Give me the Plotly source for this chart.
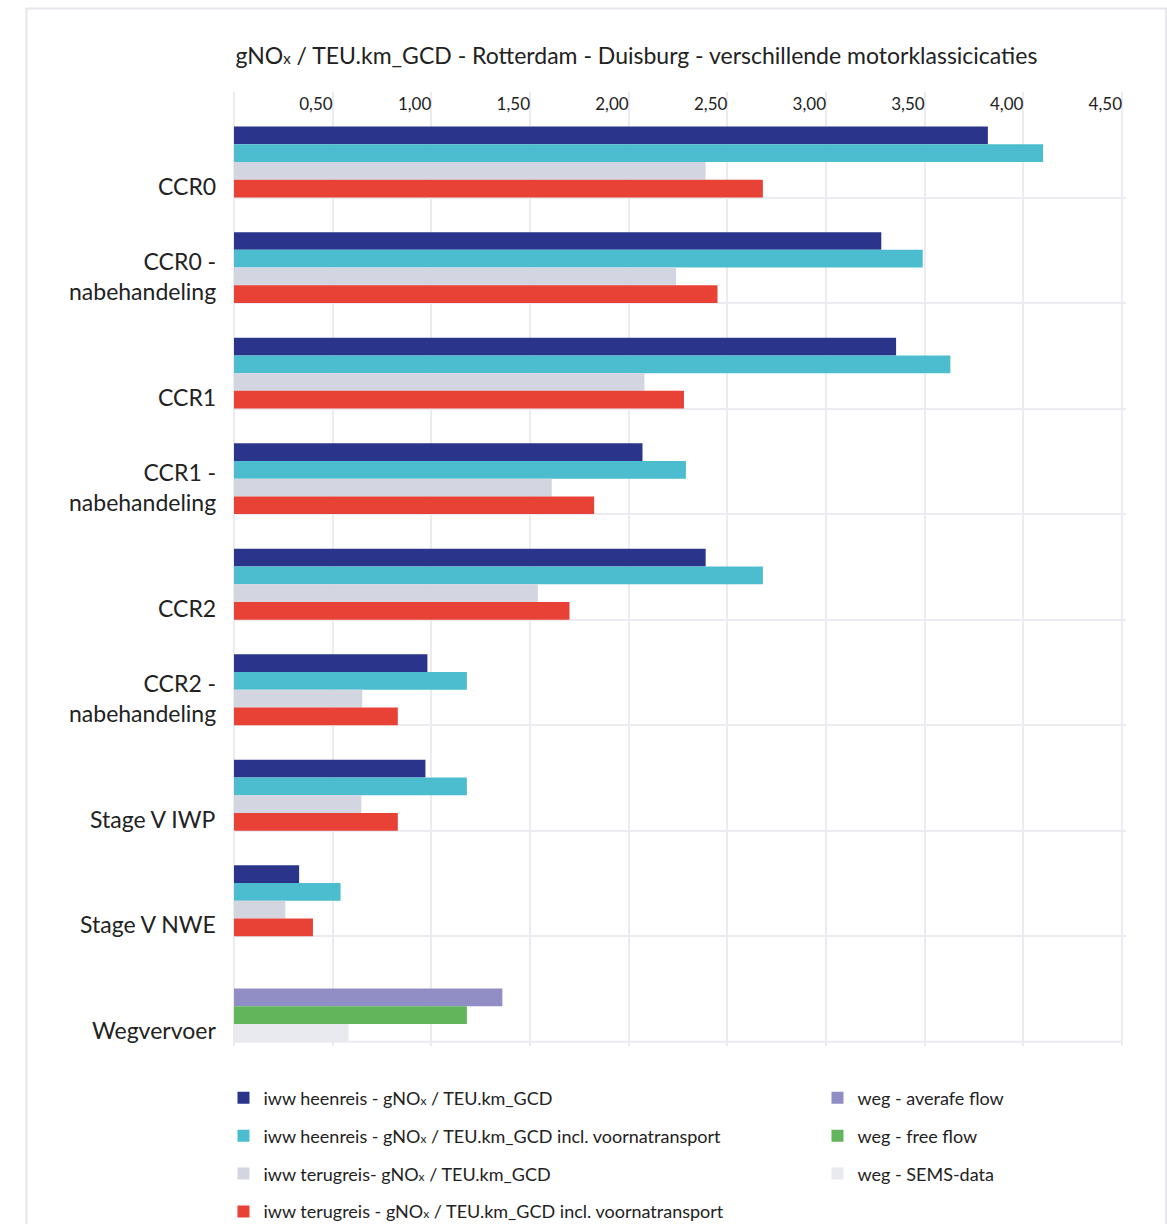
import plotly.graph_objects as go

categories = ["CCR0", "CCR0 - nabehandeling", "CCR1", "CCR1 - nabehandeling", "CCR2",
              "CCR2 - nabehandeling", "Stage V IWP", "Stage V NWE", "Wegvervoer"]
category_labels = ["CCR0", "CCR0 -<br>nabehandeling", "CCR1", "CCR1 -<br>nabehandeling", "CCR2",
                   "CCR2 -<br>nabehandeling", "Stage V IWP", "Stage V NWE", "Wegvervoer"]

iww_heen = [3.82, 3.28, 3.355, 2.07, 2.39, 0.98, 0.97, 0.33, None]
iww_heen_voor = [4.10, 3.49, 3.63, 2.29, 2.68, 1.18, 1.18, 0.54, None]
iww_terug = [2.39, 2.24, 2.08, 1.61, 1.54, 0.65, 0.645, 0.26, None]
iww_terug_voor = [2.68, 2.45, 2.28, 1.825, 1.70, 0.83, 0.83, 0.40, None]
weg_average = [None] * 8 + [1.36]
weg_free = [None] * 8 + [1.18]
weg_sems = [None] * 8 + [0.58]

tick_vals = [0.5, 1.0, 1.5, 2.0, 2.5, 3.0, 3.5, 4.0, 4.5]
tick_text = ["0,50", "1,00", "1,50", "2,00", "2,50", "3,00", "3,50", "4,00", "4,50"]

FONT = "Lato"
TXT = "#222222"
GRID = "#ebebf1"


def sx(size):
    return f"<span style='font-size:{size}px'>x</span>"


BW = 0.168
slots = [-0.172, -0.004, 0.164, 0.332]

LX = sx(12)
series = [
    (f"iww heenreis - gNO{LX} / TEU.km_GCD", iww_heen, "#29348a", slots[0], "legend"),
    (f"iww heenreis - gNO{LX} / TEU.km_GCD incl. voornatransport", iww_heen_voor, "#4bbdce", slots[1], "legend"),
    (f"iww terugreis- gNO{LX} / TEU.km_GCD", iww_terug, "#d3d6e0", slots[2], "legend"),
    (f"iww terugreis - gNO{LX} / TEU.km_GCD incl. voornatransport", iww_terug_voor, "#e84136", slots[3], "legend"),
    ("weg - averafe flow", weg_average, "#918dc5", slots[1], "legend2"),
    ("weg - free flow", weg_free, "#62b55a", slots[2], "legend2"),
    ("weg - SEMS-data", weg_sems, "#e9eaf0", slots[3], "legend2"),
]

fig = go.Figure()
for i, (name, vals, color, off, leg) in enumerate(series):
    fig.add_trace(go.Bar(
        y=categories, x=vals, name=name, orientation="h",
        marker=dict(color=color, line=dict(width=0)),
        width=BW, offset=off, legend=leg, legendgroup=f"g{i}",
    ))

for i, lab in enumerate(category_labels):
    fig.add_annotation(
        xref="paper", yref="y", x=0, y=i + 0.5, xshift=-16, yshift=-4,
        text=lab, showarrow=False, xanchor="right", yanchor="bottom", align="right",
        font=dict(family=FONT, size=23, color=TXT),
    )

fig.add_shape(type="rect", xref="paper", yref="paper",
              x0=-0.2327, x1=1.045, y0=1.0874, y1=-0.25,
              line=dict(color="#e6e7ec", width=2), fillcolor="rgba(0,0,0,0)", layer="below")
# bottom boundary line of the last category band
fig.add_shape(type="line", xref="x", yref="y",
              x0=0, x1=tick_vals[-1], y0=len(categories) - 0.5, y1=len(categories) - 0.5,
              line=dict(color=GRID, width=2), layer="below")

legend_common = dict(
    orientation="v", font=dict(family=FONT, size=18, color=TXT),
    tracegroupgap=11.5, itemclick=False, bgcolor="rgba(0,0,0,0)",
    xanchor="left", yanchor="top", traceorder="grouped",
    xref="container", yref="container",
)

fig.update_layout(
    width=1167, height=1224,
    margin=dict(l=234, r=41, t=92, b=178, autoexpand=False),
    paper_bgcolor="white", plot_bgcolor="white",
    barmode="overlay",
    title=dict(text=f"gNO{sx(15)} / TEU.km_GCD - Rotterdam - Duisburg - verschillende motorklassicicaties",
               x=0.5454, xref="container", xanchor="center",
               y=1 - 56 / 1224, yref="container", yanchor="middle",
               font=dict(family=FONT, size=23, color=TXT)),
    font=dict(family=FONT, color=TXT),
    showlegend=True,
    legend=dict(x=0.1915, y=0.118, **legend_common),
    legend2=dict(x=0.7005, y=0.118, **legend_common),
    xaxis=dict(range=[0, 4.52], side="top", tickvals=tick_vals, ticktext=tick_text,
               ticklabelposition="inside left", ticks="", showgrid=True,
               gridcolor=GRID, gridwidth=2, zeroline=True, zerolinecolor=GRID,
               zerolinewidth=2, showline=False,
               tickfont=dict(family=FONT, size=17, color=TXT)),
    yaxis=dict(categoryorder="array", categoryarray=categories,
               range=[len(categories) - 0.5 + 0.04, -0.5], autorange=False,
               tickson="boundaries", showgrid=True, gridcolor=GRID, gridwidth=2,
               showticklabels=False, ticks="", zeroline=False, showline=False),
)

fig.write_html("out.html")
